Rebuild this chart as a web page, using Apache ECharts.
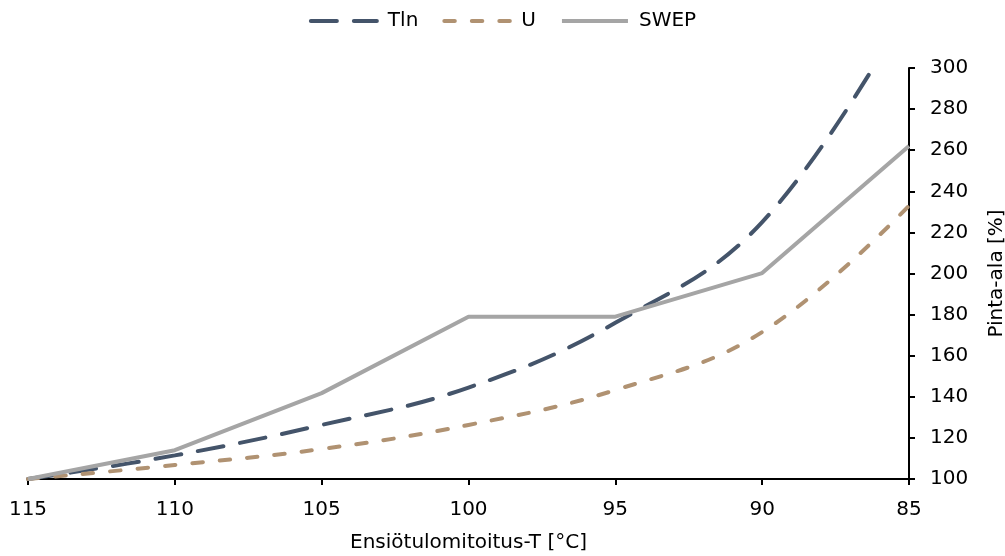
<!DOCTYPE html>
<html>
<head>
<meta charset="utf-8">
<script src="https://cdn.jsdelivr.net/npm/echarts@6/dist/echarts.min.js"></script>
<style>html,body{margin:0;padding:0;background:#fff}#c{width:1005px;height:556px}</style>
</head>
<body>
<div id="c"></div>
<script>
const temps = [115, 110, 105, 100, 95, 90, 85];
const tln = [100, 111.5, 126.3, 144.5, 176, 225, 330];
const u = [100, 106.8, 114.6, 126.3, 143.3, 171.5, 233];
const swep = [100, 114, 141.8, 179, 179, 200.2, 262];
const seriesNames = ['Tln', 'U', 'SWEP'];
const xTitle = 'Ensiötulomitoitus-T [°C]';
const yTitle = 'Pinta-ala [%]';

const font = '"DejaVu Sans", Verdana, sans-serif';
const pair = arr => temps.map((t, i) => [t, arr[i]]);

const chart = echarts.init(document.getElementById('c'), null, {renderer: 'canvas'});
chart.setOption({
  animation: false,
  backgroundColor: '#fff',
  textStyle: {fontFamily: font},
  legend: {
    top: 6,
    left: 'center',
    itemWidth: 66,
    itemHeight: 14,
    itemGap: 24,
    itemStyle: {opacity: 0},
    lineStyle: {width: 4},
    textStyle: {fontSize: 20, color: '#000', fontFamily: font, padding: [0, 0, 0, 6]},
    data: seriesNames
  },
  grid: {left: 28, right: 96, top: 68, bottom: 77, containLabel: false, outerBoundsMode: 'none'},
  xAxis: {
    type: 'value',
    inverse: true,
    min: 85, max: 115, interval: 5,
    name: xTitle,
    nameLocation: 'middle',
    nameGap: 54,
    nameTextStyle: {fontSize: 20, color: '#000', fontFamily: font},
    axisLine: {show: true, lineStyle: {color: '#000', width: 2}},
    axisTick: {show: true, length: 6, lineStyle: {color: '#000', width: 2}},
    axisLabel: {fontSize: 20, color: '#000', margin: 21, fontFamily: font},
    splitLine: {show: false}
  },
  yAxis: {
    type: 'value',
    position: 'right',
    min: 100, max: 300, interval: 20,
    name: yTitle,
    nameLocation: 'middle',
    nameRotate: 90,
    nameGap: 78,
    nameTextStyle: {fontSize: 20, color: '#000', fontFamily: font},
    axisLine: {show: true, onZero: false, lineStyle: {color: '#000', width: 2}},
    axisTick: {show: true, length: 6, lineStyle: {color: '#000', width: 2}},
    axisLabel: {fontSize: 20, color: '#000', margin: 21, fontFamily: font},
    splitLine: {show: false}
  },
  series: [
    {
      name: seriesNames[0], type: 'line', data: pair(tln), smooth: 0.4, symbol: 'none',
      clip: true,
      lineStyle: {color: '#44546A', width: 4, type: [26, 17], cap: 'round'},
      itemStyle: {color: '#44546A'}
    },
    {
      name: seriesNames[1], type: 'line', data: pair(u), smooth: 0.4, symbol: 'none',
      lineStyle: {color: '#B09272', width: 4, type: [10.5, 17], cap: 'round'},
      itemStyle: {color: '#B09272'}
    },
    {
      name: seriesNames[2], type: 'line', data: pair(swep), smooth: false, symbol: 'none',
      lineStyle: {color: '#A5A5A5', width: 4},
      itemStyle: {color: '#A5A5A5'}
    }
  ]
});
</script>
</body>
</html>
